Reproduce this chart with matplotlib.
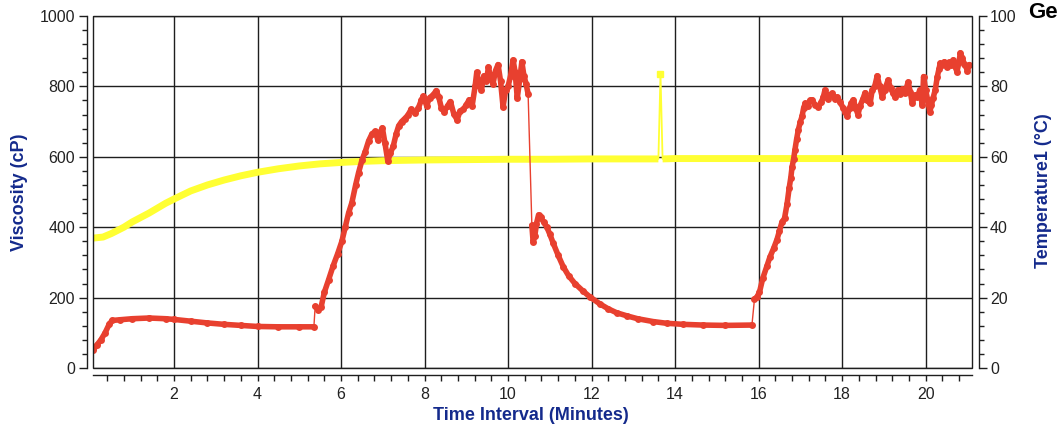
import matplotlib
matplotlib.use("Agg")
import matplotlib.pyplot as plt
from matplotlib.ticker import MultipleLocator
from matplotlib.patches import Rectangle
import numpy as np

# ---------------- data ----------------
visc_time = [0.06, 0.15, 0.25, 0.35, 0.45, 0.52, 0.7, 1.0, 1.4, 1.8, 2.0, 2.4, 2.8, 3.2, 3.6, 4.0,
             4.5, 5.0, 5.35,
             5.38, 5.45, 5.52, 5.6, 5.7, 5.81, 5.92, 6.02, 6.1, 6.18, 6.26, 6.35, 6.42, 6.5, 6.58,
             6.66, 6.74, 6.82, 6.88, 6.94, 6.99, 7.05, 7.12, 7.18, 7.25, 7.32, 7.38, 7.45, 7.52,
             7.6, 7.68, 7.77, 7.85, 7.92, 7.97, 8.05, 8.12, 8.2, 8.28, 8.34, 8.4, 8.47, 8.55, 8.62,
             8.7, 8.78, 8.85, 8.93, 9.0, 9.07, 9.14, 9.21, 9.25, 9.3, 9.36, 9.42, 9.48, 9.53, 9.59,
             9.64, 9.7, 9.76, 9.82, 9.88, 9.94, 10.0, 10.06, 10.12, 10.17, 10.22, 10.28, 10.33,
             10.38, 10.43, 10.48,
             10.57, 10.6, 10.64, 10.68, 10.73, 10.78, 10.85, 10.93, 11.0, 11.08, 11.2, 11.32, 11.45,
             11.6, 11.8, 11.96, 12.2, 12.4, 12.6, 12.85, 13.1, 13.47, 13.8, 14.2, 14.67, 15.2, 15.84,
             15.9, 15.96, 16.02, 16.1, 16.2, 16.27, 16.36, 16.44, 16.5, 16.56, 16.62, 16.68, 16.73,
             16.77, 16.8, 16.84, 16.87, 16.91, 16.95, 17.0, 17.04, 17.08, 17.12, 17.18, 17.23, 17.28,
             17.35, 17.43, 17.5, 17.55, 17.59, 17.65, 17.7, 17.76, 17.82, 17.88, 17.95, 18.02, 18.08,
             18.12, 18.18, 18.22, 18.27, 18.32, 18.38, 18.43, 18.5, 18.55, 18.6, 18.67, 18.72, 18.78,
             18.84, 18.9, 18.96, 19.02, 19.1, 19.16, 19.22, 19.27, 19.33, 19.38, 19.44, 19.5, 19.58,
             19.63, 19.68, 19.74, 19.8, 19.86, 19.92, 19.95, 20.0, 20.05, 20.1, 20.14, 20.18, 20.23,
             20.28, 20.32, 20.35, 20.4, 20.45, 20.51, 20.56, 20.61, 20.66, 20.7, 20.75, 20.8, 20.83,
             20.88, 20.92, 20.95, 21.0, 21.05]
visc_cp = [50, 65, 80, 100, 125, 135, 137, 140, 142, 140, 138, 133, 128, 124, 121, 118,
           117, 117, 117,
           175, 166, 172, 215, 250, 290, 325, 360, 400, 440, 470, 520, 555, 590, 615,
           645, 665, 672, 648, 670, 682, 640, 588, 610, 630, 665, 688, 700, 708,
           718, 735, 724, 738, 760, 772, 745, 768, 775, 788, 770, 740, 727, 745, 757,
           722, 705, 730, 735, 748, 762, 745, 800, 840, 812, 790, 830, 815, 855, 820,
           808, 845, 862, 815, 742, 790, 800, 830, 875, 840, 767, 820, 870,
           830, 808, 778,
           405, 358, 375, 410, 435, 428, 415, 400, 380, 355, 320, 288, 262,
           240, 218, 202, 182, 168, 157, 148, 140, 132, 127, 124, 122, 121, 122,
           195, 202, 215, 255, 290, 315, 340, 365, 390, 415, 425, 465, 510,
           540, 570, 595, 620, 650, 676, 700, 715, 740, 752, 745, 760, 762,
           748, 742, 755, 770, 790, 765, 775, 780, 765, 770, 755, 740, 728,
           715, 740, 752, 762, 740, 720, 745, 765, 782, 760, 752, 790, 800,
           830, 800, 770, 790, 818, 795, 780, 770, 790, 778, 792, 780, 812,
           785, 752, 775, 770, 790, 747, 828, 790, 760, 728, 748, 768, 790,
           828, 850, 866, 860, 870, 855, 868, 862, 875, 858, 842, 870, 895,
           880, 865, 860, 845, 862]
visc_breaks = [5.36, 10.52, 15.87]   # abrupt steps drawn as thin connectors

temp_time = [0.06, 0.3, 0.5, 0.8, 1.0, 1.4, 1.8, 2.0, 2.4, 2.8, 3.2, 3.6, 4.0, 4.5, 5.0, 5.5,
             6.0, 6.5, 7.0, 8.0, 9.0, 10.0, 11.0, 12.0, 13.0, 13.6, 13.65, 13.7, 14.0, 16.0,
             18.0, 20.0, 21.11]
temp_c = [36.9, 37.2, 38.2, 40.0, 41.5, 44.0, 46.8, 48.0, 50.3, 52.0, 53.4, 54.6, 55.6, 56.6,
          57.4, 58.0, 58.4, 58.7, 58.9, 59.1, 59.2, 59.3, 59.3, 59.4, 59.4, 59.4, 83.6, 59.4,
          59.5, 59.5, 59.5, 59.5, 59.5]
temp_spike_time = [13.65]

# ---------------- style ----------------
plt.rcParams['font.family'] = ['Liberation Sans', 'DejaVu Sans']
RED = '#e8402f'
YELLOW = '#ffff33'
NAVY = '#142a8c'
GRID = '#1e1e1e'
TXT = '#222222'

W, H = 1059, 430
fig = plt.figure(figsize=(W / 100, H / 100), dpi=100)
L, R, T, B = 93, 972, 16, 368
ax = fig.add_axes([L / W, (H - B) / H, (R - L) / W, (B - T) / H])
ax2 = ax.twinx()
ax.set_zorder(2)
ax2.set_zorder(1)
ax.patch.set_visible(False)
ax2.patch.set_visible(True)
ax2.patch.set_facecolor('white')
ax2.xaxis.set_visible(True)

# ---- temperature (right axis), drawn under viscosity ----
tt = np.array(temp_time)
tc = np.array(temp_c)
spike = np.isin(tt, temp_spike_time)
tc_main = np.where(spike, np.nan, tc)
ax2.plot(tt, tc, color=YELLOW, lw=1.3, zorder=3)
ax2.plot(tt, tc_main, color=YELLOW, lw=5.0, solid_capstyle='butt', zorder=3)
ax2.plot(tt[spike], tc[spike], 's', color=YELLOW, ms=4, zorder=3)

# ---- viscosity (left axis) ----
vt = np.array(visc_time)
vc = np.array(visc_cp, dtype=float)
ax.plot(vt, vc, color=RED, lw=1.0, zorder=3)
seg_id = np.searchsorted(visc_breaks, vt)
for s in np.unique(seg_id):
    m = seg_id == s
    ax.plot(vt[m], vc[m], color=RED, lw=4.0, solid_joinstyle='round', solid_capstyle='round', zorder=3)
ax.plot(vt, vc, 'o', color=RED, ms=5.0, mew=0, zorder=3)

# ---- axes ----
ax.set_xlim(0.06, 21.11)
ax.set_ylim(0, 1000)
ax2.set_ylim(0, 100)

ax.xaxis.set_major_locator(MultipleLocator(2))
ax.xaxis.set_minor_locator(MultipleLocator(0.4))
ax.yaxis.set_major_locator(MultipleLocator(200))
ax.yaxis.set_minor_locator(MultipleLocator(40))
ax2.yaxis.set_major_locator(MultipleLocator(20))
ax2.yaxis.set_minor_locator(MultipleLocator(4))

ax2.grid(True, which='major', axis='both', color=GRID, lw=1.0)
ax2.tick_params(axis='x', which='both', bottom=False, top=False, labelbottom=False, labeltop=False)

for sp in ['top', 'right']:
    ax.spines[sp].set_visible(False)
for sp in ['top', 'left', 'bottom']:
    ax2.spines[sp].set_visible(False)
ax.spines['left'].set_position(('outward', 4.5))
ax.spines['bottom'].set_position(('outward', 5))
ax2.spines['right'].set_position(('outward', 5))
for s in [ax.spines['left'], ax.spines['bottom'], ax2.spines['right']]:
    s.set_color(GRID)
    s.set_linewidth(1.0)

ax.tick_params(axis='y', which='major', length=6, width=1, color=GRID, pad=2.5,
               labelsize=11.5, labelcolor=TXT)
ax.tick_params(axis='y', which='minor', length=3.5, width=1, color=GRID)
ax.tick_params(axis='x', which='both', length=4, width=1, color=GRID)
ax.tick_params(axis='x', which='major', pad=5, labelsize=11.5, labelcolor=TXT)
ax2.tick_params(axis='y', which='major', length=6, width=1, color=GRID, pad=2,
                labelsize=11.5, labelcolor=TXT)
ax2.tick_params(axis='y', which='minor', length=3.5, width=1, color=GRID)

# frame around the plot area
ax.add_patch(Rectangle((0, 0), 1, 1, transform=ax.transAxes, fill=False,
                       lw=1.0, ec=GRID, clip_on=False, zorder=5))

# ---- labels ----
fig.text(20 / W, 1 - 192 / H, 'Viscosity (cP)', rotation=90, ha='center', va='center',
         color=NAVY, fontsize=13, fontweight='bold')
fig.text(1043 / W, 1 - 191 / H, 'Temperature1 (°C)', rotation=90, ha='center', va='center',
         color=NAVY, fontsize=13, fontweight='bold')
fig.text(531 / W, 1 - 415 / H, 'Time Interval (Minutes)', ha='center', va='center',
         color=NAVY, fontsize=13, fontweight='bold')
fig.text(1028 / W, 1 - 18 / H, 'Ge', ha='left', va='baseline', color='black',
         fontsize=16, fontweight='bold')

fig.savefig('out.png', dpi=100)
